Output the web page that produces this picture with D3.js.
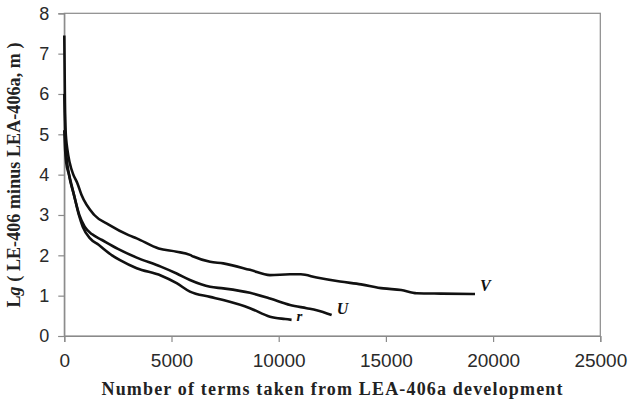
<!DOCTYPE html>
<html><head><meta charset="utf-8">
<script src="https://cdn.jsdelivr.net/npm/d3@7"></script>
<style>body{margin:0;background:#fff}</style>
</head><body><svg id="c" width="629" height="403"></svg>
<script>
const xTicks = [0, 5000, 10000, 15000, 20000, 25000];
const yTicks = [0, 1, 2, 3, 4, 5, 6, 7, 8];
const seriesNames = ["V", "U", "r"];
const vX = [0, 30, 60, 150, 250, 420, 600, 800, 1400, 2070, 3000, 3376, 4400, 5240, 5860, 6020, 6800, 7415, 8660, 9594, 10530, 11030, 11770, 12860, 13840, 14880, 15710, 16435, 17580, 19155];
const vY = [7.45, 5.8, 5.1, 4.6, 4.3, 4.0, 3.8, 3.5, 3.0, 2.76, 2.5, 2.42, 2.17, 2.09, 2.01, 1.97, 1.84, 1.80, 1.64, 1.51, 1.53, 1.53, 1.45, 1.35, 1.28, 1.18, 1.14, 1.06, 1.05, 1.04];
const uX = [0, 40, 80, 220, 450, 700, 950, 1300, 1760, 2500, 3350, 4500, 5240, 5860, 6800, 7415, 8660, 9594, 10530, 11300, 11770, 12470];
const uY = [6.0, 5.0, 4.6, 4.0, 3.5, 3.0, 2.71, 2.52, 2.38, 2.16, 1.95, 1.72, 1.55, 1.39, 1.22, 1.18, 1.07, 0.93, 0.77, 0.69, 0.64, 0.52];
const rX = [0, 40, 90, 220, 450, 680, 860, 1200, 1600, 2225, 2600, 3376, 4500, 5240, 5860, 6800, 7415, 8660, 9594, 10300, 10600];
const rY = [5.1, 4.6, 4.3, 4.0, 3.5, 3.0, 2.71, 2.42, 2.26, 2.0, 1.88, 1.68, 1.50, 1.31, 1.10, 0.97, 0.89, 0.69, 0.48, 0.42, 0.40];

const svg = d3.select("#c");
const L = 64.3, R = 600.3, T = 13.3, B = 336;
const x = d3.scaleLinear().domain([0, 25000]).range([L, R]);
const y = d3.scaleLinear().domain([0, 8]).range([B, T]);
const axisCol = "#8a8a8a";

svg.append("rect").attr("x", L).attr("y", T).attr("width", R - L).attr("height", B - T)
  .attr("fill", "none").attr("stroke", axisCol).attr("stroke-width", 1.2);

const xa = svg.append("g").attr("transform", `translate(0,${B})`)
  .call(d3.axisBottom(x).tickValues(xTicks).tickSize(6).tickPadding(12).tickFormat(d3.format("d")));
const ya = svg.append("g").attr("transform", `translate(${L},0)`)
  .call(d3.axisLeft(y).tickValues(yTicks).tickSize(6).tickPadding(9).tickFormat(d3.format("d")));
[xa, ya].forEach(g => {
  g.selectAll("path").attr("stroke", axisCol).attr("stroke-width", 1.2);
  g.selectAll("line").attr("stroke", axisCol).attr("stroke-width", 1.2);
  g.selectAll("text").attr("font-family", "Liberation Sans, Arial, sans-serif").attr("font-size", 19).attr("fill", "#2a2a2a");
});
ya.selectAll("text").attr("font-size", 18);

const line = d3.line().x(d => x(d[0])).y(d => y(d[1])).curve(d3.curveMonotoneX);
const data = [d3.zip(vX, vY), d3.zip(uX, uY), d3.zip(rX, rY)];
data.forEach(d => {
  svg.append("path").datum(d).attr("d", line).attr("fill", "none")
    .attr("stroke", "#111").attr("stroke-width", 2.6).attr("stroke-linejoin", "round");
});

const lab = [[vX[vX.length-1], vY[vY.length-1]], [uX[uX.length-1], uY[uY.length-1]], [rX[rX.length-1], rY[rY.length-1]]];
lab.forEach((p, i) => {
  svg.append("text").attr("x", x(p[0]) + 5).attr("y", y(p[1]) + (i === 0 ? -3 : i === 1 ? -1 : 1))
    .attr("font-family", "Liberation Serif, Times New Roman, serif").attr("font-weight", "bold").attr("font-style", "italic")
    .attr("font-size", i === 2 ? 15 : 16).attr("fill", "#111").text(seriesNames[i]);
});

svg.append("text").attr("x", 332).attr("y", 395).attr("text-anchor", "middle")
  .attr("font-family", "Liberation Serif, Times New Roman, serif").attr("font-weight", "bold").attr("font-size", 18)
  .attr("fill", "#222").attr("textLength", 461).attr("lengthAdjust", "spacing")
  .text("Number of terms taken from LEA-406a development");

const yt = svg.append("text").attr("transform", "translate(20,175) rotate(-90)").attr("text-anchor", "middle")
  .attr("font-family", "Liberation Serif, Times New Roman, serif").attr("font-weight", "bold").attr("font-size", 18)
  .attr("fill", "#222").attr("textLength", 265).attr("lengthAdjust", "spacing");
yt.append("tspan").text("L");
yt.append("tspan").attr("font-style", "italic").text("g");
yt.append("tspan").text(" ( LE-406 minus LEA-406a, m )");
</script></body></html>
